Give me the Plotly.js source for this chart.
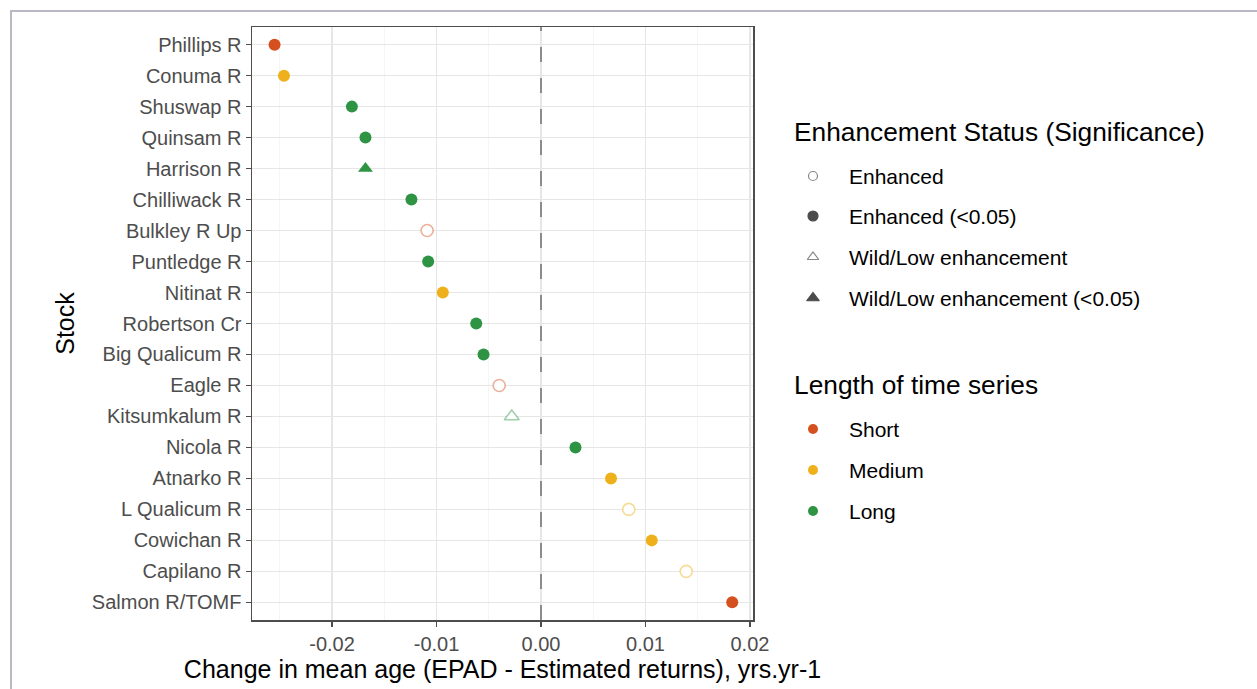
<!DOCTYPE html>
<html>
<head>
<meta charset="utf-8">
<script src="https://cdn.plot.ly/plotly-3.0.1.min.js"></script>
<style>
  html, body { margin: 0; padding: 0; background: #ffffff; overflow: hidden; }
  #wrap { position: relative; width: 1257px; height: 689px; }
  #chart { position: absolute; left: 0; top: 0; width: 1257px; height: 689px; }
  /* page frame: top and left edges only */
  #frame { position: absolute; left: 10px; top: 10px; width: 1257px; height: 689px;
           border-top: 2px solid #B9B9C6; border-left: 2px solid #B9B9C6;
           box-sizing: border-box; pointer-events: none; }
</style>
</head>
<body>
<div id="wrap">
  <div id="chart"></div>
  <div id="frame"></div>
</div>
<script>
// Stocks, top to bottom
const stocks = [
  'Phillips R', 'Conuma R', 'Shuswap R', 'Quinsam R', 'Harrison R',
  'Chilliwack R', 'Bulkley R Up', 'Puntledge R', 'Nitinat R', 'Robertson Cr',
  'Big Qualicum R', 'Eagle R', 'Kitsumkalum R', 'Nicola R', 'Atnarko R',
  'L Qualicum R', 'Cowichan R', 'Capilano R', 'Salmon R/TOMF'
];

// Change in mean age (EPAD - estimated returns), yrs per yr
const change = [
  -0.0255, -0.0246, -0.0181, -0.0168, -0.0168,
  -0.0124, -0.0109, -0.0108, -0.0094, -0.0062,
  -0.0055, -0.0040, -0.0028, 0.0033, 0.0067,
  0.0084, 0.0106, 0.0139, 0.0183
];

// Length of time series per stock
const seriesLength = [
  'Short', 'Medium', 'Long', 'Long', 'Long',
  'Long', 'Short', 'Long', 'Medium', 'Long',
  'Long', 'Short', 'Long', 'Long', 'Medium',
  'Medium', 'Medium', 'Medium', 'Short'
];

// Enhancement status (with significance) per stock
const status = [
  'Enhanced (<0.05)', 'Enhanced (<0.05)', 'Enhanced (<0.05)', 'Enhanced (<0.05)', 'Wild/Low enhancement (<0.05)',
  'Enhanced (<0.05)', 'Enhanced', 'Enhanced (<0.05)', 'Enhanced (<0.05)', 'Enhanced (<0.05)',
  'Enhanced (<0.05)', 'Enhanced', 'Wild/Low enhancement', 'Enhanced (<0.05)', 'Enhanced (<0.05)',
  'Enhanced', 'Enhanced (<0.05)', 'Enhanced', 'Enhanced (<0.05)'
];

const statusLevels = ['Enhanced', 'Enhanced (<0.05)', 'Wild/Low enhancement', 'Wild/Low enhancement (<0.05)'];
const lengthLevels = ['Short', 'Medium', 'Long'];

const xTicks = [-0.02, -0.01, 0.00, 0.01, 0.02];
const xTickText = ['-0.02', '-0.01', '0.00', '0.01', '0.02'];

// Styling
const lengthColour = { Short: '#D4501F', Medium: '#EEB11B', Long: '#2E9444' };
const lengthFaint = { Short: 'rgba(212,80,31,0.45)', Medium: 'rgba(238,177,27,0.45)', Long: 'rgba(46,148,68,0.45)' };
const statusSymbol = {
  'Enhanced': 'circle', 'Enhanced (<0.05)': 'circle',
  'Wild/Low enhancement': 'triangle-up', 'Wild/Low enhancement (<0.05)': 'triangle-up'
};
const statusOpen = {
  'Enhanced': true, 'Enhanced (<0.05)': false,
  'Wild/Low enhancement': true, 'Wild/Low enhancement (<0.05)': false
};

const FONT = 'Liberation Sans, Arial, Helvetica, sans-serif';
const W = 1257, H = 689;
const M = { l: 252, r: 7, t: 27, b: 69 };
const panelRight = 753;                 // right edge of the data panel, px
const plotW = W - M.l - M.r;

// One trace per enhancement status, coloured by series length
const traces = statusLevels.map(level => {
  const idx = status.map((s, i) => s === level ? i : -1).filter(i => i >= 0);
  const open = statusOpen[level];
  return {
    type: 'scatter', mode: 'markers', name: level,
    x: idx.map(i => change[i]),
    y: idx.map(i => stocks[i]),
    xaxis: 'x', yaxis: 'y',
    showlegend: false, hoverinfo: 'x+y',
    marker: {
      symbol: statusSymbol[level],
      size: statusSymbol[level] === 'circle' ? 12 : 13,
      color: open ? '#ffffff' : idx.map(i => lengthColour[seriesLength[i]]),
      line: open
        ? { width: 1.6, color: idx.map(i => lengthFaint[seriesLength[i]]) }
        : { width: 0 }
    }
  };
});

// Legend keys, drawn on a helper axis pair whose units are page pixels
const keyX = 813, labelX = 847;
const statusRows = [176, 216, 257, 298];
const lengthRows = [429, 470, 511];

traces.push({
  type: 'scatter', mode: 'markers', xaxis: 'x2', yaxis: 'y2',
  x: statusRows.map(() => keyX), y: statusRows,
  showlegend: false, hoverinfo: 'skip',
  marker: {
    symbol: statusLevels.map(l => statusSymbol[l]),
    size: [9, 10, 10, 11],
    color: statusLevels.map(l => statusOpen[l] ? '#ffffff' : '#000000'),
    line: { width: 1.2, color: statusLevels.map(l => statusOpen[l] ? '#555555' : '#000000') }
  }
});
traces.push({
  type: 'scatter', mode: 'markers', xaxis: 'x2', yaxis: 'y2',
  x: lengthRows.map(() => keyX), y: lengthRows,
  showlegend: false, hoverinfo: 'skip',
  marker: { symbol: 'circle', size: 10, color: lengthLevels.map(l => lengthColour[l]) }
});

const TITLE_SIZE = 26.3, LABEL_SIZE = 21, TICK_SIZE = 20;
const annotations = [];
annotations.push({
  xref: 'x2', yref: 'y2', x: 792, y: 132, xanchor: 'left', yanchor: 'middle',
  text: 'Enhancement Status (Significance)', showarrow: false,
  font: { family: FONT, size: TITLE_SIZE, color: '#000000' }
});
statusLevels.forEach((l, i) => annotations.push({
  xref: 'x2', yref: 'y2', x: labelX, y: statusRows[i], xanchor: 'left', yanchor: 'middle',
  text: l.replace('<', '&lt;'), showarrow: false,
  font: { family: FONT, size: LABEL_SIZE, color: '#000000' }
}));
annotations.push({
  xref: 'x2', yref: 'y2', x: 792, y: 385, xanchor: 'left', yanchor: 'middle',
  text: 'Length of time series', showarrow: false,
  font: { family: FONT, size: TITLE_SIZE, color: '#000000' }
});
lengthLevels.forEach((l, i) => annotations.push({
  xref: 'x2', yref: 'y2', x: labelX, y: lengthRows[i], xanchor: 'left', yanchor: 'middle',
  text: l, showarrow: false,
  font: { family: FONT, size: LABEL_SIZE, color: '#000000' }
}));

const shapes = [
  // dashed reference line at zero change
  { type: 'line', xref: 'x', yref: 'paper', x0: 0, x1: 0, y0: 0, y1: 1,
    line: { color: '#8C8C8C', width: 2, dash: '15px,16px' }, layer: 'above' }
];

const layout = {
  width: W, height: H,
  margin: M,
  paper_bgcolor: 'rgba(0,0,0,0)', plot_bgcolor: '#ffffff',
  font: { family: FONT, color: '#000000' },
  showlegend: false,
  xaxis: {
    domain: [0, (panelRight - M.l) / plotW],
    range: [-0.02766, 0.02029],
    tickvals: xTicks, ticktext: xTickText,
    ticks: 'outside', ticklen: 5, tickwidth: 1.2, tickcolor: '#4D4D4D',
    tickfont: { family: FONT, size: TICK_SIZE, color: '#4D4D4D' },
    showgrid: true, gridcolor: '#E6E6E6', gridwidth: 1.2,
    minor: { dtick: 0.005, tick0: 0, showgrid: true, gridcolor: '#F2F2F2', gridwidth: 0.8 },
    zeroline: false,
    showline: true, mirror: true, linecolor: '#4D4D4D', linewidth: 1.5,
    title: { text: 'Change in mean age (EPAD - Estimated returns), yrs.yr-1', standoff: 5,
             font: { family: FONT, size: 25, color: '#000000' } },
    anchor: 'y', fixedrange: true
  },
  yaxis: {
    type: 'category', categoryorder: 'array', categoryarray: stocks,
    range: [stocks.length - 1 + 0.57, -0.57],
    ticks: 'outside', ticklen: 5, tickwidth: 1.2, tickcolor: '#4D4D4D',
    tickfont: { family: FONT, size: TICK_SIZE, color: '#4D4D4D' },
    showgrid: true, gridcolor: '#E6E6E6', gridwidth: 1.2,
    zeroline: false,
    showline: true, mirror: true, linecolor: '#4D4D4D', linewidth: 1.5,
    title: { text: 'Stock', standoff: 10, font: { family: FONT, size: 25, color: '#000000' } },
    anchor: 'x', fixedrange: true
  },
  xaxis2: {
    domain: [(780 - M.l) / plotW, 1], range: [780, W - M.r],
    visible: false, fixedrange: true, anchor: 'y2'
  },
  yaxis2: {
    domain: [0, 1], range: [H - M.b, M.t],
    visible: false, fixedrange: true, anchor: 'x2'
  },
  shapes: shapes,
  annotations: annotations
};

Plotly.newPlot('chart', traces, layout, { displayModeBar: false, staticPlot: true });
</script>
</body>
</html>
